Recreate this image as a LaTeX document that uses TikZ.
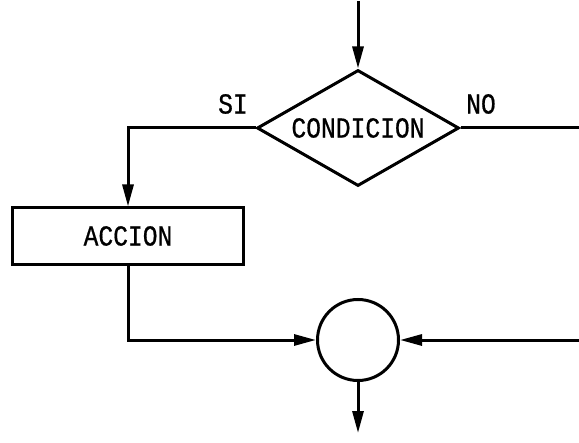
\documentclass[tikz,border=0pt]{standalone}
\usepackage{fontspec}
\newfontfamily\plotfont[FakeStretch=0.85,FakeBold=0.6]{Liberation Mono}
\usetikzlibrary{shapes.geometric,arrows.meta}

\tikzset{
  linea/.style={line width=3bp},
  flecha/.style={linea, -{Triangle[length=22bp,width=11bp]}},
  caja/.style={draw, linea, minimum width=231bp, minimum height=56bp, inner sep=0pt},
  rombo/.style={draw, linea, diamond, aspect=1.74, minimum width=202bp, minimum height=116bp, inner sep=0pt},
  union/.style={draw, linea, circle, minimum size=81bp, inner sep=0pt}
}

\begin{document}
\begin{tikzpicture}[
    x=1bp,
    y=-1bp,
    font=\plotfont\fontsize{29bp}{31bp}\selectfont
  ]
    \useasboundingbox (0,0) rectangle (579,443);

    % Nodos
    \node[rombo] (cond) at (358,128) {CONDICION};
    \node[caja] (accion) at (128,236) {ACCION};
    \node[union] (junta) at (358,340) {};

    \coordinate (entrada) at (358,1);
    \coordinate (salida) at (358,433);
    \coordinate (bordeNO) at (579,128);
    \coordinate (bordeR) at (579,340);

    % Etiquetas de las ramas
    \node at (233,104) {SI};
    \node at (481,104) {NO};

    % Conectores
    \draw[flecha] (entrada) -- (cond.north);
    \draw[flecha] (cond.west) -| (accion.north);
    \draw[linea] (cond.east) -- (bordeNO);
    \draw[flecha] (accion.south) |- (junta.west);
    \draw[flecha] (bordeR) -- (junta.east);
    \draw[flecha] (junta.south) -- (salida);
  \end{tikzpicture}
\end{document}
